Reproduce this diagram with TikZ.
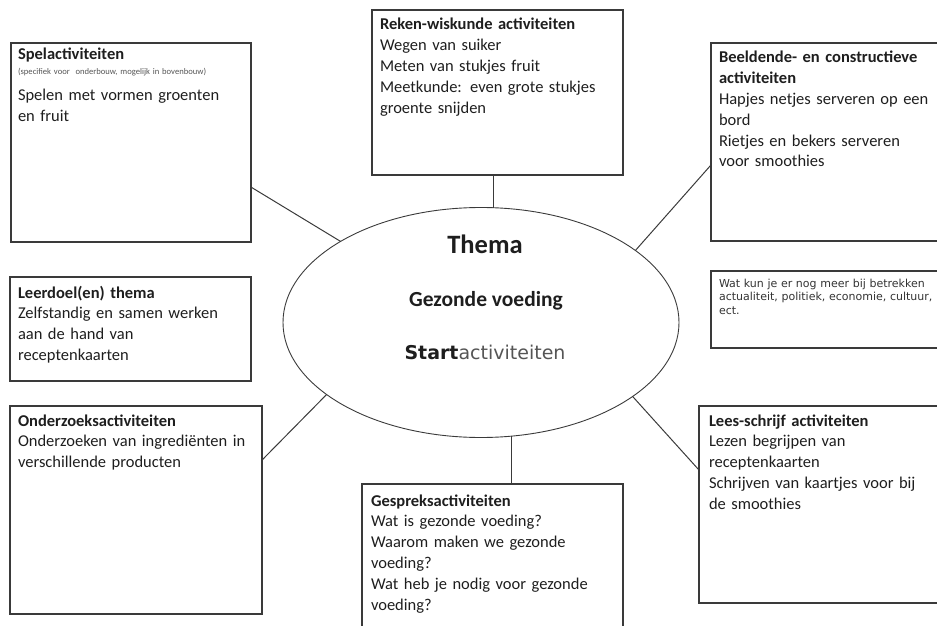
\documentclass[tikz,border=0pt]{standalone}
\usepackage{fontspec}
\setmainfont{Carlito}
\newfontfamily\verd{DejaVu Sans}
\usetikzlibrary{shapes.geometric,calc}
\definecolor{ln}{HTML}{3A3A3A}
\definecolor{tx}{HTML}{1E1E1E}
\definecolor{lt}{HTML}{555555}
\definecolor{wt}{HTML}{333333}
\tikzset{
  box/.style={draw=ln, line width=1.4bp, rectangle, anchor=north west, inner sep=0pt, outer sep=0pt},
  conn/.style={draw=ln, line width=1bp},
  txt/.style={anchor=base west, inner sep=0pt, outer sep=0pt, align=left, text=tx, text width=#1,
    font=\fontsize{16.5bp}{20.8bp}\selectfont},
  txt/.default=228bp,
}
\begin{document}
\begin{tikzpicture}[x=1bp,y=-1bp]
\useasboundingbox (0,0) rectangle (937,626);
% boxes
\node[box, minimum width=240bp, minimum height=199bp] (spel) at (11,43) {};
\node[box, minimum width=251bp, minimum height=165bp] (reken) at (372,10) {};
\node[box, minimum width=240bp, minimum height=198bp] (beeld) at (711,43) {};
\node[box, minimum width=241bp, minimum height=104bp] (leer) at (10,277) {};
\node[box, minimum width=252bp, minimum height=208bp] (onder) at (10,406) {};
\node[box, minimum width=240bp, minimum height=77bp] (wat) at (711,271) {};
\node[box, minimum width=250bp, minimum height=197bp] (lees) at (699,406) {};
\node[box, minimum width=261bp, minimum height=160bp] (gesp) at (362,484) {};
% central ellipse
\node[draw=ln, line width=0.9bp, ellipse, minimum width=396bp, minimum height=230bp, inner sep=0pt, outer sep=0pt] (ell) at (481,322.5) {};
\node[anchor=base, inner sep=0pt, text=tx, font=\fontsize{26.5bp}{30bp}\selectfont\bfseries] (thema) at (485,254) {Thema};
\node[anchor=base, inner sep=0pt, text=tx, font=\fontsize{21.5bp}{24bp}\selectfont\bfseries] (gezond) at (486,306.5) {Gezonde voeding};
\node[anchor=base, inner sep=0pt, text=tx, font=\fontsize{19bp}{22bp}\selectfont\verd] (start) at (485,359.5) {\textbf{Start}\textcolor{lt}{activiteiten}};
% texts
\node[txt] (spelt) at (18,60) {\textbf{Spelactiviteiten}};
\node[txt, font=\fontsize{8.6bp}{9bp}\selectfont, text=lt] (speln) at (18,75) {(specifiek voor\ \ onderbouw, mogelijk in bovenbouw)};
\node[txt] (spelb) at (18,101) {Spelen met vormen groenten\\en fruit};
\node[txt=240bp] (rekent) at (380,30) {\textbf{Reken-wiskunde activiteiten}\\Wegen van suiker\\Meten van stukjes fruit\\Meetkunde: even grote stukjes\\groente snijden};
\node[txt] (beeldt) at (719,63) {\textbf{Beeldende- en constructieve}\\\textbf{activiteiten}\\Hapjes netjes serveren op een\\bord\\Rietjes en bekers serveren\\voor smoothies};
\node[txt] (leert) at (18,298) {\textbf{Leerdoel(en) thema}\\Zelfstandig en samen werken\\aan de hand van\\receptenkaarten};
\node[txt=240bp] (ondert) at (18,426) {\textbf{Onderzoeksactiviteiten}\\Onderzoeken van ingrediënten in\\verschillende producten};
\node[txt, text width=225bp, font=\fontsize{11bp}{13.5bp}\selectfont\verd, text=wt] (watt) at (719,287) {Wat kun je er nog meer bij betrekken\\actualiteit, politiek, economie, cultuur,\\ect.};
\node[txt] (leest) at (709,426) {\textbf{Lees-schrijf activiteiten}\\Lezen begrijpen van\\receptenkaarten\\Schrijven van kaartjes voor bij\\de smoothies};
\node[txt=245bp] (gespt) at (371,506) {\textbf{Gespreksactiviteiten}\\Wat is gezonde voeding?\\Waarom maken we gezonde\\voeding?\\Wat heb je nodig voor gezonde\\voeding?};
% connectors
\draw[conn] ($(spel.north east)!0.724!(spel.south east)$) -- (ell.150.2);
\draw[conn] (ell.84.5) -- (ell.84.5 |- reken.south);
\draw[conn] ($(beeld.north west)!0.616!(beeld.south west)$) -- (ell.25.7);
\draw[conn] ($(onder.north east)!0.26!(onder.south east)$) -- (ell.205.8);
\draw[conn] (ell.285.6) -- (ell.285.6 |- gesp.north);
\draw[conn] (ell.334.8) -- ($(lees.north west)!0.325!(lees.south west)$);
\end{tikzpicture}
\end{document}
